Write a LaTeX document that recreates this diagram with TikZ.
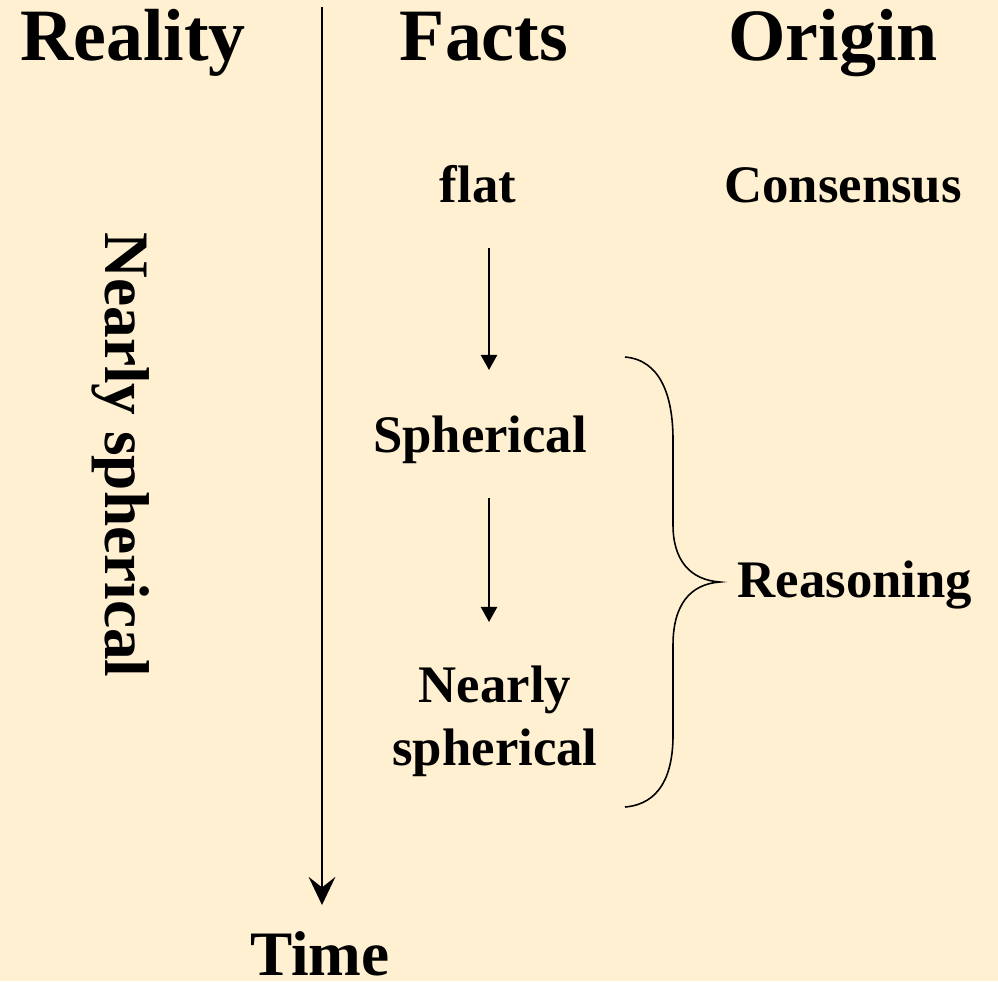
\documentclass[tikz,border=0pt]{standalone}
\usepackage{fontspec}
\setmainfont{Liberation Serif}
\usetikzlibrary{arrows.meta}
\definecolor{bg}{RGB}{255,240,210}
\tikzset{
  lbl/.style={inner sep=0pt, anchor=base, font=\bfseries},
  big/.style={lbl, font=\fontsize{21}{24}\selectfont\bfseries},
  mid/.style={lbl, font=\fontsize{18}{21}\selectfont\bfseries},
  small/.style={lbl, font=\fontsize{15}{18}\selectfont\bfseries},
  timeline/.style={line width=0.65pt, -{Stealth[length=8pt,width=7.6pt,inset=3pt]}},
  steparrow/.style={line width=0.6pt, -{Triangle[length=4.3pt,width=4.6pt]}},
  bracestroke/.style={line width=0.45pt}
}
\begin{document}
\begin{tikzpicture}[x=0.01cm,y=-0.01cm]
\fill[bg] (0,0) rectangle (998,981);
\useasboundingbox (0,0) rectangle (998,981);
% headings
\node[big] (reality) at (133,60) {Reality};
\node[big] (facts) at (484,60) {Facts};
\node[big] (origin) at (833,60) {Origin};
% time axis
\coordinate (ttop) at (322,7);
\coordinate (tend) at (322,905);
\draw[timeline] (ttop) -- (tend);
\node[mid] (time) at (320,975) {Time};
% vertical label
\node[mid, rotate=-90] (nearlyv) at (105,455) {Nearly spherical};
% facts column
\node[small] (flat) at (478,202) {flat};
\node[small] (sph) at (480,452) {Spherical};
\node[small, align=center] (nearly) at (495,765) {Nearly\\[-0.3pt]spherical};
\coordinate (a1s) at (489,248);
\coordinate (a1e) at (489,370);
\coordinate (a2s) at (489,498);
\coordinate (a2e) at (489,622);
\draw[steparrow] (a1s) -- (a1e);
\draw[steparrow] (a2s) -- (a2e);
% origin column
\node[small] (cons) at (843,202) {Consensus};
\node[small] (reason) at (855,597) {Reasoning};
% brace
\coordinate (btop) at (625,357);
\coordinate (btip) at (720,582);
\coordinate (bbot) at (625,807);
\draw[bracestroke] (btop) .. controls (660,360) and (673,395) .. (673,440) -- (673,525)
  .. controls (673,560) and (690,580) .. (btip)
  .. controls (690,584) and (673,605) .. (673,645) -- (673,735)
  .. controls (673,775) and (660,804) .. (bbot);
\end{tikzpicture}
\end{document}
